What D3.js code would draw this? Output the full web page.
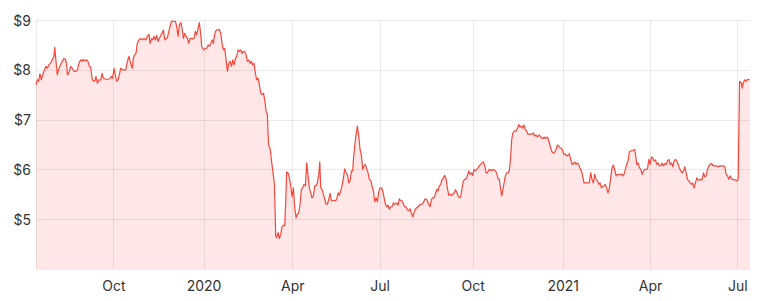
<!DOCTYPE html>
<head>
<meta charset="utf-8">
<script src="https://d3js.org/d3.v7.min.js"></script>
<style>
body {
margin: 0;
background: #fff;
}
.axis text {
font-family: Inter, "Open Sans", sans-serif;
font-size: 14px;
fill: #333;
}
.axis path {
display: none;
}
.grid line {
stroke: #000;
stroke-opacity: .08;
shape-rendering: crispEdges;
}
</style>
</head>
<body>
<svg width=764 height=301></svg>
<script>
// x = trading session number (0 = first session shown)
var day = [
0,0.9,1.9,2.8,3.8,4.7,5.7,7.1,8,9.2,10.4,11.6,12.8,13.3,15.1,16.3,17.5,18.7,19.9,21.1,21.8,22.3,23.2,24.6,25.8,27,28.2,29.4,30.5,31.7,32.9,33.6,34.6,36,36.9,37.9,38.8,40,41.2,41.9,42.6,43.6,44.7,45.9,46.9,47.8,49.5,51.1,52.5,53.5,54.4,55.4,56.3,57.3,58.2,59.2,60.1,61.3,62.5,63.7,64.9,66,67.2,68.4,69.1,70,71,71.9,73.1,74.3,75.5,76.7,77.9,79,80.2,
81,82.2,82.9,83.8,84.8,85.7,86.7,87.6,88.6,89.5,90.5,91.4,92.4,93.3,94.3,95.2,96.1,97.1,98,99,99.9,100.9,101.8,102.8,103.7,104.7,105.6,106.6,107.5,108.5,109.4,110.4,111.3,112.2,113.2,114.1,115.1,116,117,117.7,118.4,119.3,120.3,121.2,122.2,123.1,124.1,125,126,126.4,127.4,128.3,129.3,130.2,131.2,132.1,133.1,134,135,135.9,136.9,137.8,138.8,139.7,140.6,141.6,142.5,143.5,144.4,145.4,146.3,147.3,148.2,149.2,150.1,151.1,152,153,153.9,154.8,155.8,156.7,157.7,158.6,159.6,160.5,161.5,162.4,163.4,164.3,164.8,165.3,
166.2,167.4,168.6,169.3,169.8,170.2,170.9,171.9,172.8,173.8,174.7,175.7,176.6,177.3,178,179,179.9,180.9,181.8,182.8,183.7,184.7,185.6,186.6,187.5,188.4,189.4,190.3,191.3,192.2,193.2,194.1,195.1,196,197,197.9,198.9,199.8,200.8,201.5,202.2,203.1,204.1,205,206,206.9,207.9,208.8,209.8,210.7,211.6,212.6,213.5,214.5,215.4,216.4,217.3,218.3,219.2,220.2,221.1,222.1,223,224,224.9,225.4,226.3,227.3,228.2,229.2,230.1,231.1,232,232.9,233.9,234.8,235.8,236.7,237.7,238.6,239.6,240.5,241.5,242.4,243.4,244.3,245.3,246.2,247.2,248.1,249,250,250.9,251.9,252.8,253.8,254.7,
255.2,256.1,257.1,258,259,259.9,260.9,261.8,262.8,263.7,264.7,265.6,266.5,267.5,268.4,269.4,270.3,271.3,272.2,273.2,274.1,275.1,276,277,277.9,278.9,279.8,280.8,281.7,282.6,283.6,284.5,285.5,286.4,287.4,288.3,289.3,290.2,291.2,291.6,292.1,293.1,294,295,295.9,296.8,297.8,298.7,299.7,300.6,301.6,302.5,303.5,304.4,305.4,306.3,307.3,308.2,309.2,310.1,311,312,312.9,313.9,314.8,315.8,316.7,317.7,318.6,319.6,320.5,321.5,322.4,323.4,324.3,325.3,326.2,327.1,328.1,329,330,330.7,331.4,332.4,333.3,334.2,335.2,336.1,337.1,337.8,338.5,339.5,
340.9,341.8,342.8,343.7,344.6,345.6,346.5,347.5,348.4,349.4,350.3,351.3,352.2,353.2,354.1,355.1,356,357,357.9,358.9,359.8,360.7,361.7,362.6,363.6,364.5,365.5,366.4,367.4,368.3,369.3,370.2,371.2,372.1,373.1,374,374.9,375.9,376.8,377.8,378.7,379.7,380.6,381.6,382.5,383.5,384.4,385.4,386.3,387.3,388.2,389.1,390.1,391,392,392.9,393.9,394.8,395.8,396.7,397.7,398.6,399.6,400.5,401.5,402.4,403.3,404.3,405.2,406.2,407.1,408.1,409,410,410.9,411.9,412.8,413.8,414.7,415.7,416.6,417.5,418.5,419.4,420.4,421.3,422.3,423.2,424.2,425.1,
425.7,426.6,427.6,428.5,429.5,430.4,431.4,432.3,433.3,434.2,435.2,436.1,437,438,438.9,439.9,440.8,441.8,442.7,443.7,444.6,445.6,446.5,447.5,448.4,449.4,450.3,451.3,452.2,453.1,454.1,455,456,456.9,457.9,458.8,459.8,460.7,461.7,462.6,463.6,464.5,465.5,466.4,467.3,468.3,469.2,470.2,471.1,472.1,473,474,474.9,475.9,476.8,477.8,478.7,479.7,480.6,481.5,482.5,483.4,484.4,485.3,486.3,487.2,488.2,489.1,490.1,491,492,492.9,493.9,494.8,495.8,496.7,497.6,498.6,499.6,500.9,501.4,502.4,503.3,504.3,505.2,506.2,507
];

// closing price in $
var price = [
7.70,7.80,7.77,7.92,7.80,7.90,7.97,8.07,8.03,8.10,8.13,8.20,8.27,8.45,7.90,8.03,8.10,8.17,8.23,8.20,8.10,7.90,7.93,8.07,8.03,7.97,7.97,8.00,8.13,8.20,8.17,8.21,8.18,8.20,8.17,8.07,8.05,7.80,7.77,7.79,7.87,7.73,7.80,7.79,7.93,7.83,7.81,7.81,7.82,7.87,7.83,8.03,7.90,7.77,7.80,7.90,8.03,8.00,8.00,8.00,8.17,8.27,8.13,8.03,8.23,8.30,8.33,8.53,8.60,8.63,8.60,8.63,8.60,8.67,8.71,
8.53,8.63,8.60,8.67,8.60,8.69,8.57,8.63,8.69,8.73,8.80,8.60,8.63,8.64,8.77,8.87,8.97,8.98,8.97,8.97,8.87,8.67,8.90,8.95,8.83,8.63,8.73,8.67,8.63,8.53,8.63,8.63,8.62,8.63,8.77,8.70,8.83,8.95,8.70,8.47,8.43,8.40,8.43,8.43,8.50,8.47,8.53,8.60,8.53,8.63,8.77,8.80,8.80,8.81,8.73,8.53,8.40,8.43,8.20,7.97,8.13,8.17,8.07,8.20,8.10,8.23,8.27,8.40,8.37,8.40,8.33,8.37,8.37,8.30,8.17,8.20,8.13,8.17,8.10,8.13,7.93,7.80,7.83,7.70,7.53,7.50,7.53,7.40,7.17,7.10,6.70,6.47,
6.43,6.13,5.87,5.70,5.13,4.67,4.63,4.73,4.61,4.70,4.85,4.88,4.87,5.33,5.95,5.93,5.83,5.67,5.45,5.63,5.23,5.03,5.10,5.13,5.30,5.60,5.63,5.70,5.67,6.13,5.87,5.63,5.53,5.43,5.47,5.67,5.67,5.73,5.90,6.15,5.63,5.60,5.50,5.40,5.30,5.30,5.40,5.52,5.37,5.37,5.38,5.37,5.40,5.53,5.48,5.57,5.67,5.83,6.01,5.93,5.90,5.73,5.77,5.97,5.97,6.20,6.47,6.70,6.87,6.67,6.40,6.27,6.00,6.07,6.10,6.01,5.93,5.80,5.78,5.67,5.57,5.35,5.43,5.35,5.55,5.63,5.63,5.57,5.43,5.30,5.25,5.28,5.20,5.25,5.25,5.33,5.30,
5.30,5.33,5.28,5.41,5.37,5.37,5.30,5.25,5.25,5.19,5.17,5.21,5.13,5.05,5.13,5.20,5.23,5.25,5.28,5.30,5.30,5.33,5.40,5.41,5.37,5.30,5.25,5.40,5.43,5.43,5.50,5.60,5.57,5.67,5.70,5.79,5.83,5.88,5.81,5.73,5.63,5.48,5.50,5.48,5.50,5.52,5.59,5.55,5.47,5.43,5.45,5.63,5.77,5.80,5.81,5.87,5.97,5.90,5.93,5.88,6.00,5.97,6.00,6.03,6.07,6.10,6.13,6.15,6.08,5.93,5.93,5.99,6.00,5.97,6.00,5.99,5.97,5.93,5.81,5.80,5.60,5.47,5.57,5.73,5.87,5.93,5.93,5.97,6.27,6.60,6.72,6.77,
6.77,6.82,6.90,6.85,6.87,6.83,6.89,6.80,6.77,6.70,6.71,6.71,6.71,6.73,6.67,6.69,6.65,6.69,6.67,6.63,6.62,6.65,6.62,6.65,6.62,6.53,6.43,6.35,6.33,6.35,6.40,6.49,6.47,6.43,6.43,6.37,6.30,6.31,6.27,6.29,6.31,6.20,6.10,6.11,6.15,6.10,6.13,6.10,6.02,5.97,5.87,5.73,5.73,5.73,5.73,5.73,5.93,5.80,5.73,5.90,5.80,5.78,5.70,5.73,5.63,5.65,5.67,5.70,5.63,5.53,5.62,5.83,6.03,6.09,6.00,5.87,5.90,5.90,5.89,5.91,5.87,5.90,6.00,6.10,6.17,6.35,6.37,6.38,6.39,6.40,
6.30,6.10,6.13,6.03,6.00,5.90,5.97,6.00,6.00,6.01,6.20,6.10,6.25,6.23,6.17,6.19,6.10,6.13,6.07,6.08,6.13,6.07,6.12,6.10,6.17,6.20,6.10,6.13,6.05,6.17,6.20,6.17,6.10,6.03,5.97,5.93,5.97,6.05,5.93,5.80,5.77,5.73,5.70,5.73,5.63,5.73,5.83,5.79,5.79,5.80,5.79,5.93,5.85,5.87,6.00,6.07,6.10,6.12,6.08,6.07,6.07,6.07,6.05,6.07,6.07,6.07,6.07,6.05,5.90,5.87,5.80,5.87,5.81,5.80,5.79,5.79,5.77,5.80,7.77,7.73,7.63,7.75,7.80,7.77,7.81,7.80,7.80
];

var yTicks = [5, 6, 7, 8, 9];
var yGrid = [4, 5, 6, 7, 8, 9];
// first session of each labelled month
var xTickDays = [55, 119, 182, 244, 310, 374, 436, 498];
var xTickLabels = ["Oct", "2020", "Apr", "Jul", "Oct", "2021", "Apr", "Jul"];

var svg = d3.select("svg");
var margin = {top: 20, right: 14, bottom: 32, left: 36};
var width = 764, height = 301;

var n = Math.min(day.length, price.length);
var data = d3.range(n).map(i => ({day: day[i], price: price[i]}));

var x = d3.scaleLinear()
	.domain([0, 507])
	.range([margin.left, width - margin.right]);

var y = d3.scaleLinear()
	.domain([4, 9])
	.range([height - margin.bottom, margin.top]);

var area = d3.area()
	.x(d => x(d.day))
	.y0(y(4))
	.y1(d => y(d.price));

var line = d3.line()
	.x(d => x(d.day))
	.y(d => y(d.price));

svg.append("path")
	.datum(data)
	.attr("fill", "#f4473c")
	.attr("fill-opacity", 0.13)
	.attr("d", area);

/* grid */
var grid = svg.append("g").attr("class", "grid");
grid.selectAll(".hline").data(yGrid).enter().append("line")
	.attr("x1", x(0)).attr("x2", x(507))
	.attr("y1", d => Math.round(y(d)) + 0.5).attr("y2", d => Math.round(y(d)) + 0.5);
grid.selectAll(".vline").data([0].concat(xTickDays)).enter().append("line")
	.attr("x1", d => Math.round(x(d)) + 0.5).attr("x2", d => Math.round(x(d)) + 0.5)
	.attr("y1", y(9)).attr("y2", y(4));

svg.append("path")
	.datum(data)
	.attr("fill", "none")
	.attr("stroke", "#f4473c")
	.attr("stroke-width", 1.2)
	.attr("stroke-linejoin", "round")
	.attr("d", line);

svg.append("g")
	.attr("class", "axis")
	.attr("transform", "translate(" + margin.left + ",0)")
	.call(d3.axisLeft(y).tickValues(yTicks).tickFormat(d => "$" + d).tickSize(0).tickPadding(5))
	.selectAll("text").attr("dy", "0.36em");

svg.append("g")
	.attr("class", "axis")
	.attr("transform", "translate(0," + y(4) + ")")
	.call(d3.axisBottom(x).tickValues(xTickDays).tickFormat((d, i) => xTickLabels[i]).tickSize(0).tickPadding(12));
</script>
</body>
